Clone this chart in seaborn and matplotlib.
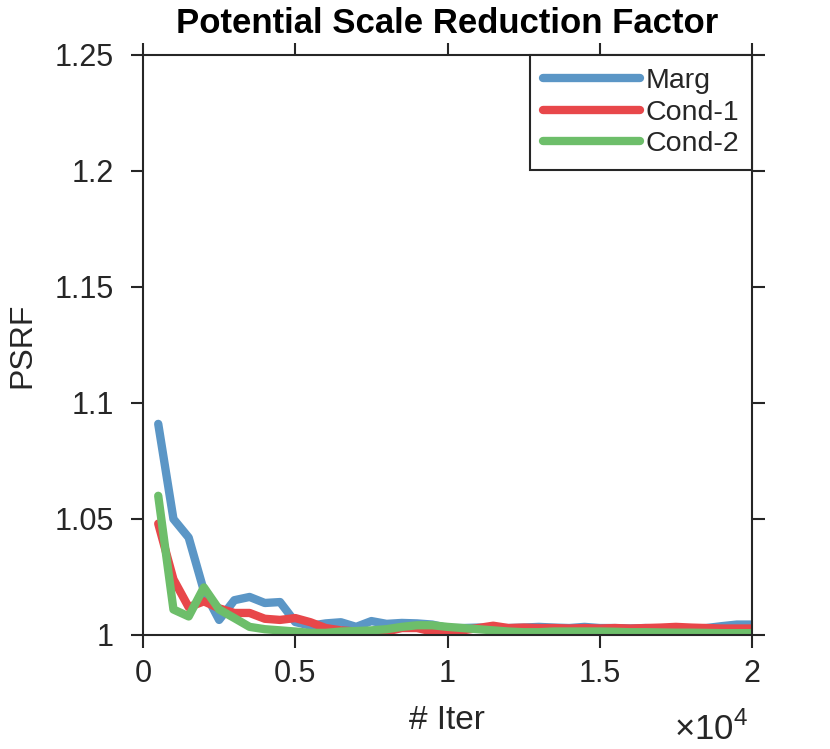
import numpy as np
import pandas as pd
import matplotlib
matplotlib.use("Agg")
import matplotlib.pyplot as plt
import seaborn as sns
from matplotlib.ticker import FuncFormatter

# iteration counts and PSRF values
iters = [500, 1000, 1500, 2000, 2500, 3000, 3500, 4000, 4500, 5000,
         5500, 6000, 6500, 7000, 7500, 8000, 8500, 9000, 9500, 10000,
         10500, 11000, 11500, 12000, 12500, 13000, 13500, 14000, 14500, 15000,
         15500, 16000, 16500, 17000, 17500, 18000, 18500, 19000, 19500, 20000]

marg = [1.091, 1.050, 1.042, 1.019, 1.0065, 1.015, 1.0164, 1.0138, 1.0142, 1.0056,
        1.004, 1.005, 1.0055, 1.0035, 1.006, 1.0048, 1.0052, 1.005, 1.0045, 1.003,
        1.003, 1.0032, 1.003, 1.003, 1.0032, 1.0035, 1.0032, 1.003, 1.0035, 1.003,
        1.003, 1.0028, 1.003, 1.0028, 1.003, 1.0028, 1.003, 1.0038, 1.0045, 1.0045]

cond1 = [1.048, 1.024, 1.012, 1.0145, 1.0115, 1.0095, 1.0095, 1.007, 1.0065, 1.0073,
         1.0055, 1.003, 1.002, 1.0015, 1.001, 1.0015, 1.003, 1.003, 1.0015, 1.001,
         1.002, 1.003, 1.004, 1.003, 1.0032, 1.003, 1.003, 1.0028, 1.003, 1.0028,
         1.003, 1.0028, 1.003, 1.0032, 1.0035, 1.0032, 1.003, 1.0028, 1.0028, 1.0028]

cond2 = [1.060, 1.011, 1.008, 1.0205, 1.011, 1.0073, 1.0035, 1.0025, 1.002, 1.0015,
         1.0009, 1.0009, 1.0015, 1.0017, 1.002, 1.0025, 1.0035, 1.0042, 1.0042, 1.0035,
         1.003, 1.0025, 1.002, 1.0015, 1.0012, 1.0012, 1.0015, 1.0015, 1.0015, 1.0015,
         1.0014, 1.0012, 1.0012, 1.0011, 1.001, 1.001, 1.0009, 1.0008, 1.0008, 1.0008]

methods = ["Marg", "Cond-1", "Cond-2"]
colors = ["#5b96c6", "#e8474a", "#6dbe6a"]

df = pd.DataFrame({
    "iter": iters * 3,
    "psrf": marg + cond1 + cond2,
    "method": [m for m in methods for _ in iters],
})

sns.set_style("ticks")
plt.rcParams["font.family"] = ["Liberation Sans", "DejaVu Sans"]
plt.rcParams["mathtext.fontset"] = "custom"
plt.rcParams["mathtext.rm"] = "Liberation Sans"

W, H = 830, 749
fig = plt.figure(figsize=(W / 100, H / 100), dpi=100)
ax = fig.add_axes([143 / W, 1 - 635 / H, 609 / W, 580 / H])

sns.lineplot(data=df, x="iter", y="psrf", hue="method", hue_order=methods,
             palette=colors, linewidth=6, ax=ax, legend=False)

ax.set_xlim(0, 20000)
ax.set_ylim(1, 1.25)
ax.set_xticks([0, 5000, 10000, 15000, 20000])
ax.set_yticks([1, 1.05, 1.1, 1.15, 1.2, 1.25])
ax.xaxis.set_major_formatter(FuncFormatter(lambda v, p: "%g" % (v / 1e4)))
ax.yaxis.set_major_formatter(FuncFormatter(lambda v, p: "%g" % v))
ax.tick_params(direction="out", length=9, width=1.5, labelsize=22,
               top=True, right=True, color="#262626", labelcolor="#262626")
ax.tick_params(axis="y", pad=12)
ax.tick_params(axis="x", pad=8)
for s in ax.spines.values():
    s.set_visible(True)
    s.set_linewidth(1.5)
    s.set_edgecolor("#262626")

ax.set_xlabel("")
ax.set_ylabel("")
fig.text(447 / W, 1 - 729 / H, "# Iter", fontsize=24, ha="center",
         va="baseline", color="#262626")
fig.text(30 / W, 1 - 345 / H, "PSRF", fontsize=23, ha="center",
         va="baseline", rotation=90, rotation_mode="anchor", color="#262626")
fig.text(447 / W, 1 - 33 / H, "Potential Scale Reduction Factor", fontsize=25,
         fontweight="bold", ha="center", va="baseline", color="black")
fig.text(748 / W, 1 - 740 / H, r"$\times10^{4}$", fontsize=25, ha="right",
         va="baseline", color="#262626")

handles = [plt.Line2D([], [], color=c, linewidth=6) for c in colors]
leg = ax.legend(handles, methods, loc="upper right", fontsize=20.5,
                handlelength=3.4, handletextpad=0.2, labelspacing=0.2,
                borderaxespad=0, borderpad=0.45, fancybox=False, framealpha=1)
leg.get_frame().set_edgecolor("#262626")
leg.get_frame().set_linewidth(1.5)

fig.savefig("out.png", dpi=100, facecolor="white")
